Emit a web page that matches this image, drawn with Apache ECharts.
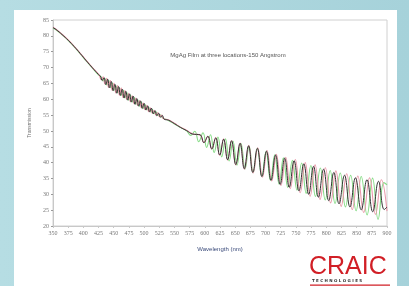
<!DOCTYPE html>
<html>
<head>
<meta charset="utf-8">
<script src="https://cdn.jsdelivr.net/npm/echarts@6/dist/echarts.min.js"></script>
<style>
  html, body { margin: 0; padding: 0; }
  body { width: 409px; height: 286px; background: linear-gradient(90deg, #b6dde3 0%, #a6d2da 100%); position: relative; overflow: hidden; }
  #panel { position: absolute; left: 14px; top: 10px; width: 383px; height: 276px; background: #fff; }
  #chart { position: absolute; left: 0; top: 0; width: 409px; height: 286px; }
</style>
</head>
<body>
<div id="panel"></div>
<div id="chart"></div>
<script>
// axis ticks
var xTicks = { min: 350, max: 900, step: 25 };
var yTicks = { min: 20, max: 85, step: 5 };

// measured transmission curves, [wavelength nm, transmission %] at turning points
var blackPts = [
  [350,82.6],[355,82.0],[365,80.4],[375,78.6],[385,76.6],[395,74.4],[405,72.1],[415,69.9],[425,67.8],
  [428,67.3],[431,65.9],[434,66.8],[437,64.6],[440,66.3],[443,63.6],[446,65.6],[449,62.7],[452,64.7],
  [455,61.9],[458,64.0],[461,61.2],[464,63.2],[467,60.4],[470,62.5],[473,59.7],[476,61.7],[479,59.1],
  [482,61.0],[485,58.4],[488,60.2],[491,57.8],[494,59.5],[497,57.1],[500,58.7],[503,56.6],[506,57.9],
  [509,56.0],[512,57.2],[515,55.4],[518,56.4],[521,54.8],[524,55.6],[527,54.3],[530,54.9],[533,53.7],
  [540,53.4],[550,52.3],[560,51.1],[570,50.1],[580,49.0],
  [592,48.8],[598.5,46.3],[605,48.3],[611.5,44.3],[618,47.8],[624.5,42.4],[631,47.4],[637.5,40.9],
  [644,46.9],[651,39.4],[658,46.1],[665,38.1],[672,45.3],[679,36.9],[686.5,44.5],[694,35.6],
  [701.5,43.6],[709,34.4],[716.5,42.4],[724,33.1],[731.5,41.4],[739,32.2],[747,40.6],[755,31.1],
  [763,39.6],[771,30.0],[779,38.8],[787,29.1],[795.5,37.9],[804,28.0],[812.5,36.9],[821,27.0],
  [830,36.0],[839,26.0],[848,35.2],[857.5,25.1],[867,34.6],[876.5,24.5],[886,34.1],[895.5,25.2],[900,26.0]
];

var pinkPts = [
  [350,82.7],[355,82.1],[365,80.5],[375,78.7],[385,76.7],[395,74.5],[405,72.2],[415,70.0],[425,67.9],
  [426.5,67.4],[429.5,66.2],[432.5,67.1],[435.5,64.8],[438.5,66.6],[441.5,63.7],[444.5,65.9],[447.5,62.8],
  [450.5,65.0],[453.5,62.0],[456.5,64.3],[459.5,61.3],[462.5,63.5],[465.5,60.5],[468.5,62.7],[471.5,59.9],
  [474.5,61.9],[477.5,59.2],[480.5,61.1],[483.5,58.6],[486.5,60.4],[489.5,58.0],[492.5,59.6],[495.5,57.3],
  [498.5,58.8],[501.5,56.7],[504.5,58.1],[507.5,56.1],[510.5,57.3],[513.5,55.6],[516.5,56.5],[519.5,55.0],
  [522.5,55.8],[525.5,54.4],[528.5,55.0],[531.5,53.9],
  [540,53.5],[550,52.4],[560,51.2],[570,50.2],[580,49.1],
  [592,48.7],[598.5,46.4],[605,48.3],[611.5,44.3],[618,47.9],[624.5,42.3],[631,47.5],[637.5,40.8],
  [644,47.0],[651,39.3],[658.2,46.2],[665.3,37.9],[672.4,45.5],[679.6,36.7],[687.2,44.7],[695,35.4],
  [702.5,43.8],[710.2,34.2],[717.8,42.6],[725.5,32.8],[733.2,41.7],[740.8,31.8],[749,41.0],[757.1,30.5],
  [765.3,40.0],[773.4,29.4],[781.6,39.3],[789.8,28.4],[798.5,38.4],[807.1,27.3],[815.8,37.4],[824.5,26.2],
  [833.6,36.5],[842.8,25.2],[851.9,35.8],[861.6,24.3],[871.3,35.2],[881,23.7],[890.7,34.6],[900,24.7]
];

var greenPts = [
  [350,82.5],[355,81.9],[365,80.3],[375,78.6],[385,76.5],[395,74.3],[405,72.0],[415,69.8],[425,67.6],
  [429.5,67.0],[432.5,65.8],[435.5,66.5],[438.5,64.5],[441.5,66.0],[444.5,63.6],[447.5,65.1],[450.5,62.7],
  [453.5,64.3],[456.5,62.0],[459.5,63.6],[462.5,61.2],[465.5,62.8],[468.5,60.4],[471.5,62.1],[474.5,59.7],
  [477.5,61.3],[480.5,59.1],[483.5,60.6],[486.5,58.4],[489.5,59.8],[492.5,57.8],[495.5,59.1],[498.5,57.1],
  [501.5,58.3],[504.5,56.6],[507.5,57.5],[510.5,56.0],[513.5,56.8],[516.5,55.4],[519.5,56.0],[522.5,54.9],
  [526,55.2],[530,54.2],
  [540,53.3],[550,52.2],[560,51.1],[570,50.0],
  [577,48.6],[583.5,49.9],[590,46.6],[597,49.4],[603,44.8],[609.3,48.8],[615.4,43.2],[621.6,48.1],
  [627.8,41.8],[634,47.5],[640.1,40.5],[646.3,46.8],[653,39.2],[659.6,46.0],[666.3,38.0],[672.9,45.2],
  [679.6,36.9],[686.7,44.5],[693.8,35.7],[700.9,43.5],[708.1,34.4],[715.2,42.5],[722.3,33.2],[729.4,41.5],
  [736.5,32.2],[744.2,40.7],[751.8,31.3],[759.4,39.9],[767,30.3],[774.6,39.1],[782.2,29.3],[790.2,38.3],
  [798.3,28.2],[806.4,37.5],[814.5,27.1],[823,36.7],[831.6,26.0],[840.1,36.0],[849.1,24.8],[857.6,35.6],
  [867.2,23.5],[876.2,35.1],[885.3,22.1],[894.8,33.7],[900,33.0]
];

var chart = echarts.init(document.getElementById('chart'), null, { renderer: 'canvas' });

function curve(name, pts, color, width) {
  return {
    name: name,
    type: 'line',
    data: pts,
    showSymbol: false,
    smooth: 0.45,
    lineStyle: { color: color, width: width },
    itemStyle: { color: color }
  };
}

var option = {
  backgroundColor: 'transparent',
  animation: false,
  title: {
    text: 'MgAg Film at three locations-150 Angstrom',
    left: 223,
    top: 47,
    textAlign: 'center',
    textStyle: { fontSize: 6, fontWeight: 'normal', color: '#555', fontFamily: 'Liberation Sans' }
  },
  grid: {
    left: 53, right: 22, top: 20, bottom: 60,
    show: true, borderColor: '#d0d0d0', borderWidth: 1, backgroundColor: 'transparent'
  },
  xAxis: {
    type: 'value',
    min: xTicks.min, max: xTicks.max, interval: xTicks.step,
    name: 'Wavelength (nm)',
    nameLocation: 'middle',
    nameGap: 20,
    nameTextStyle: { fontSize: 6, color: '#3a4a7a', fontFamily: 'Liberation Sans' },
    axisLine: { lineStyle: { color: '#c8c8c8' } },
    axisTick: { show: true, length: 2, lineStyle: { color: '#c8c8c8' } },
    axisLabel: { fontSize: 6, color: '#777', margin: 4, fontFamily: 'Liberation Serif' },
    splitLine: { show: false }
  },
  yAxis: {
    type: 'value',
    min: yTicks.min, max: yTicks.max, interval: yTicks.step,
    name: 'Transmission',
    nameLocation: 'middle',
    nameGap: 20,
    nameRotate: 90,
    nameTextStyle: { fontSize: 5, color: '#777', fontFamily: 'Liberation Sans' },
    axisLine: { show: true, lineStyle: { color: '#c8c8c8' } },
    axisTick: { show: true, length: 2, lineStyle: { color: '#999' } },
    axisLabel: { fontSize: 6, color: '#777', margin: 4, fontFamily: 'Liberation Serif' },
    splitLine: { show: false }
  },
  series: [
    curve('Location 3', greenPts, '#86dc86', 1.1),
    curve('Location 2', pinkPts, '#e99aaa', 1.1),
    curve('Location 1', blackPts, '#333333', 1)
  ],
  graphic: [
    {
      type: 'text', left: 309, top: 255,
      style: { text: 'CRAIC', fontSize: 25, fill: '#d11f26', fontFamily: 'Liberation Sans', fontWeight: 'normal' }
    },
    {
      type: 'text', left: 312, top: 279,
      style: { text: 'T E C H N O L O G I E S', fontSize: 4, fill: '#333', fontFamily: 'DejaVu Sans', fontWeight: 'bold' }
    },
    {
      type: 'rect', shape: { x: 310, y: 284.5, width: 80, height: 1.2 },
      style: { fill: '#d11f26' }
    }
  ]
};

chart.setOption(option);
</script>
</body>
</html>
